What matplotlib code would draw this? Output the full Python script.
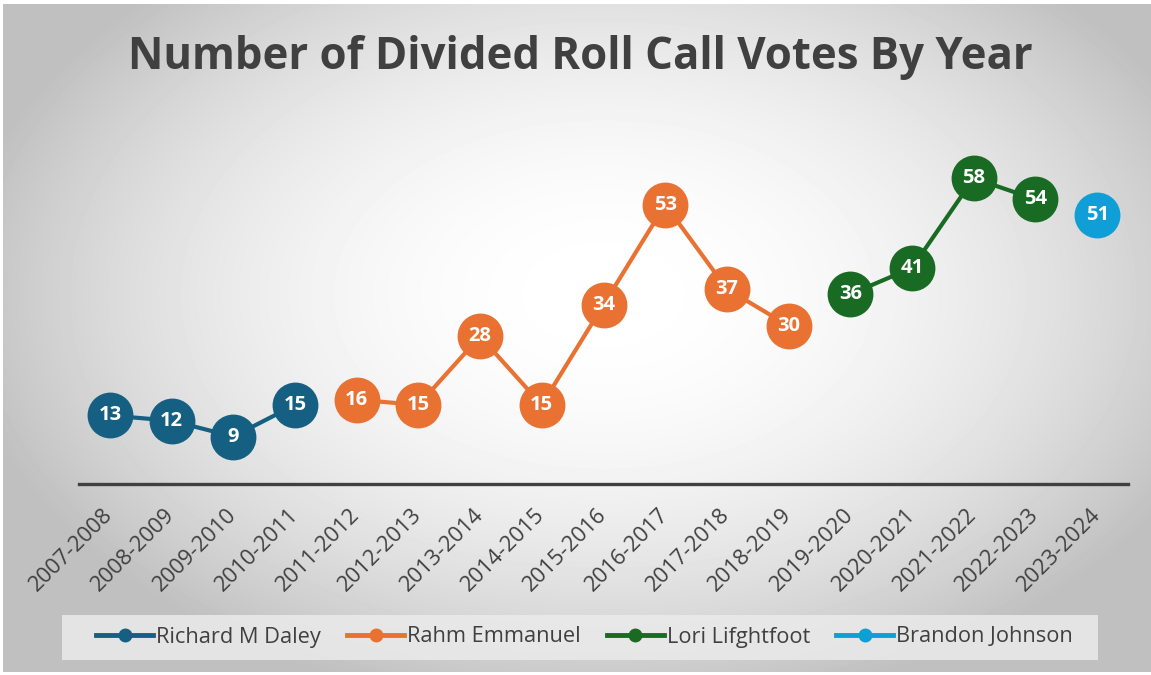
import numpy as np
import matplotlib.pyplot as plt
from matplotlib.lines import Line2D
from matplotlib.patches import Rectangle

plt.rcParams['font.family'] = ['Open Sans', 'DejaVu Sans']

years = ['2007-2008', '2008-2009', '2009-2010', '2010-2011', '2011-2012',
         '2012-2013', '2013-2014', '2014-2015', '2015-2016', '2016-2017',
         '2017-2018', '2018-2019', '2019-2020', '2020-2021', '2021-2022',
         '2022-2023', '2023-2024']

nan = np.nan
daley = [13, 12, 9, 15] + [nan] * 13
emanuel = [nan] * 4 + [16, 15, 28, 15, 34, 53, 37, 30] + [nan] * 5
lightfoot = [nan] * 12 + [36, 41, 58, 54, nan]
johnson = [nan] * 16 + [51]

names = ['Richard M Daley', 'Rahm Emmanuel', 'Lori Lifghtfoot', 'Brandon Johnson']
colors = ['#156082', '#E97132', '#196B24', '#0F9ED5']
series = [daley, emanuel, lightfoot, johnson]

fig = plt.figure(figsize=(11.51, 6.75), dpi=100)
fig.patch.set_facecolor('white')

# radial grey background
bg = fig.add_axes([3 / 1151, 3 / 675, 1148 / 1151, 668 / 675])
W, H = 1148, 668
xx, yy = np.meshgrid(np.arange(W), np.arange(H))
r2 = ((xx - 600) / 650.0) ** 2 + ((yy - 290) / 420.0) ** 2
shade = 1 - 0.25 * np.clip(r2, 0, 1)
bg.imshow(shade, cmap='gray', vmin=0, vmax=1, aspect='auto', interpolation='bilinear')
bg.set_axis_off()

ax = fig.add_axes([79 / 1151, 1 - 484 / 675, 1049 / 1151, 369 / 675])
ax.set_facecolor('none')

x = np.arange(len(years))
for vals, c in zip(series, colors):
    vals = np.array(vals, dtype=float)
    ax.plot(x, vals, color=c, lw=3, marker='o', markersize=32, zorder=3)
    for i, v in zip(x, vals):
        if not np.isnan(v):
            ax.text(i, v, f'{int(v)}', color='white', fontsize=14.5,
                    fontweight='bold', ha='center', va='center', zorder=4)

ax.set_xlim(-0.5, len(years) - 0.5)
ax.set_ylim(0, 70)
ax.set_yticks([])
for side in ['top', 'right', 'left']:
    ax.spines[side].set_visible(False)
ax.spines['bottom'].set_color('#404040')
ax.spines['bottom'].set_linewidth(2.4)
ax.set_xticks(x)
ax.set_xticklabels(years, rotation=45, ha='right', va='center',
                   rotation_mode='anchor', fontsize=15.8, color='#404040')
ax.tick_params(axis='x', length=0, pad=20)

fig.text(0.504, 0.915, 'Number of Divided Roll Call Votes By Year',
         ha='center', va='center', fontsize=31.5, fontweight='bold', color='#404040')

# legend box
fig.patches.append(Rectangle((62 / 1151, 1 - 660 / 675), 1036 / 1151, 45 / 675,
                             transform=fig.transFigure, facecolor='#EBEBEB',
                             edgecolor='none', alpha=0.85, zorder=0))
handles = [Line2D([0], [0], color=c, lw=3.5, marker='o', markersize=9) for c in colors]
fig.legend(handles, names, loc='center', bbox_to_anchor=(0.508, 1 - 637 / 675),
           ncol=4, frameon=False, fontsize=15.7, handlelength=2.6,
           handletextpad=0.15, columnspacing=1.2, labelcolor='#404040')

fig.savefig('out.png', dpi=100, facecolor='white')
